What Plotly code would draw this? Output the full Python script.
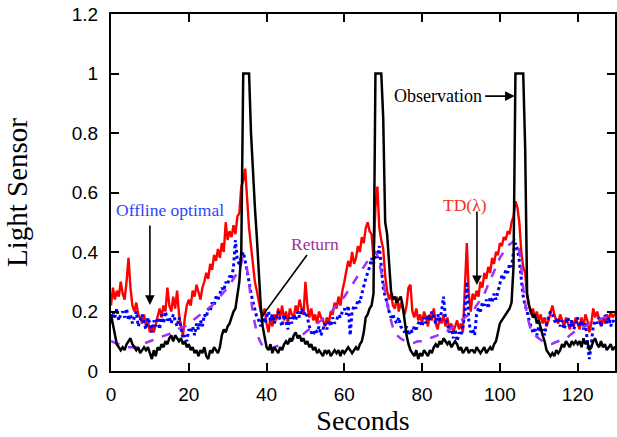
import plotly.graph_objects as go

# time axes (seconds)
t_fine = [i * 0.5 for i in range(261)]
t_coarse = list(range(131))

observation = [
    0.19,0.16,0.12,0.09,0.08,0.07,0.08,0.07,0.09,0.10, 0.11,0.09,0.08,0.07,0.08,0.06,0.07,0.08,0.07,0.08,
    0.06,0.04,0.07,0.05,0.08,0.07,0.09,0.08,0.10,0.09, 0.11,0.12,0.10,0.12,0.11,0.10,0.11,0.09,0.10,0.08,
    0.09,0.07,0.08,0.06,0.07,0.05,0.07,0.06,0.08,0.05, 0.04,0.07,0.06,0.08,0.07,0.06,0.08,0.12,0.14,0.13,
    0.15,0.16,0.18,0.20,0.21,0.25,0.30,0.40,1.0,1.0, 1.0,1.0,0.80,0.65,0.55,0.45,0.32,0.22,0.15,0.12,
    0.08,0.07,0.09,0.06,0.08,0.07,0.06,0.08,0.07,0.09, 0.10,0.09,0.11,0.10,0.12,0.13,0.11,0.12,0.10,0.11,
    0.09,0.10,0.08,0.09,0.07,0.08,0.06,0.07,0.06,0.05, 0.07,0.06,0.07,0.05,0.06,0.07,0.06,0.07,0.05,0.07,
    0.06,0.07,0.08,0.07,0.06,0.07,0.08,0.07,0.09,0.10, 0.13,0.18,0.19,0.21,0.22,0.26,1.0,1.0,1.0,1.0,
    0.85,0.50,0.46,0.38,0.27,0.24,0.25,0.23,0.24,0.25, 0.22,0.17,0.12,0.09,0.07,0.06,0.05,0.07,0.04,0.06,
    0.05,0.07,0.06,0.05,0.07,0.06,0.08,0.09,0.08,0.10, 0.09,0.11,0.10,0.09,0.10,0.08,0.09,0.10,0.09,0.07,
    0.08,0.06,0.07,0.08,0.06,0.07,0.07,0.06,0.08,0.07, 0.06,0.07,0.08,0.06,0.07,0.08,0.07,0.09,0.10,0.13,
    0.16,0.17,0.18,0.19,0.20,0.21,0.23,0.35,1.0,1.0, 1.0,1.0,1.0,0.75,0.26,0.22,0.20,0.18,0.19,0.16,
    0.17,0.14,0.12,0.10,0.07,0.06,0.05,0.06,0.05,0.07, 0.06,0.07,0.09,0.08,0.10,0.09,0.08,0.10,0.09,0.10,
    0.09,0.10,0.08,0.11,0.09,0.10,0.07,0.08,0.10,0.11, 0.09,0.08,0.10,0.08,0.09,0.07,0.08,0.09,0.07,0.08,
    0.08,
]

td_lambda = [
    0.22,0.28,0.24,0.27,0.25,0.30,0.26,0.24,0.30,0.38, 0.28,0.22,0.20,0.23,0.19,0.18,0.16,0.19,0.15,0.17,
    0.13,0.15,0.13,0.16,0.19,0.21,0.18,0.22,0.20,0.28, 0.22,0.20,0.25,0.21,0.27,0.19,0.15,0.12,0.18,0.22,
    0.24,0.22,0.27,0.25,0.29,0.26,0.24,0.28,0.30,0.33, 0.31,0.36,0.34,0.39,0.37,0.41,0.38,0.43,0.40,0.50,
    0.44,0.47,0.45,0.49,0.46,0.52,0.53,0.62,0.64,0.68, 0.58,0.48,0.42,0.36,0.30,0.27,0.23,0.20,0.19,0.21,
    0.16,0.13,0.18,0.15,0.19,0.17,0.21,0.18,0.22,0.17, 0.20,0.16,0.21,0.19,0.18,0.22,0.20,0.24,0.21,0.19,
    0.30,0.22,0.18,0.21,0.17,0.19,0.16,0.20,0.18,0.17, 0.15,0.18,0.16,0.20,0.19,0.23,0.21,0.25,0.22,0.27,
    0.30,0.34,0.37,0.35,0.40,0.36,0.38,0.42,0.40,0.45, 0.43,0.48,0.50,0.47,0.46,0.38,0.55,0.62,0.48,0.44,
    0.41,0.32,0.27,0.24,0.26,0.22,0.21,0.25,0.20,0.23, 0.21,0.19,0.22,0.28,0.29,0.20,0.18,0.21,0.17,0.19,
    0.16,0.20,0.18,0.15,0.19,0.17,0.21,0.16,0.14,0.18, 0.16,0.19,0.15,0.18,0.14,0.16,0.13,0.15,0.17,0.14,
    0.16,0.13,0.28,0.43,0.26,0.20,0.26,0.24,0.27,0.25, 0.30,0.28,0.33,0.31,0.35,0.33,0.38,0.36,0.40,0.39,
    0.43,0.42,0.45,0.44,0.47,0.46,0.50,0.52,0.57,0.55, 0.50,0.40,0.35,0.33,0.25,0.22,0.19,0.21,0.18,0.20,
    0.17,0.19,0.16,0.18,0.15,0.17,0.20,0.22,0.19,0.17, 0.16,0.19,0.17,0.15,0.18,0.16,0.14,0.17,0.15,0.18,
    0.16,0.14,0.18,0.15,0.19,0.17,0.13,0.16,0.21,0.18, 0.20,0.17,0.15,0.18,0.16,0.19,0.17,0.20,0.18,0.19,
    0.19,
]

offline_optimal = [
    0.16,0.20,0.18,0.21,0.17,0.19,0.20,0.18,0.21,0.17, 0.19,0.16,0.18,0.20,0.15,0.17,0.19,0.16,0.14,0.18,
    0.16,0.13,0.17,0.15,0.18,0.14,0.19,0.16,0.20,0.17, 0.18,0.16,0.19,0.17,0.15,0.18,0.14,0.11,0.12,0.10,
    0.14,0.13,0.15,0.12,0.16,0.14,0.17,0.15,0.19,0.18, 0.21,0.20,0.23,0.22,0.25,0.24,0.26,0.28,0.27,0.30,
    0.29,0.32,0.31,0.35,0.44,0.37,0.36,0.38,0.40,0.37, 0.34,0.30,0.26,0.23,0.20,0.18,0.17,0.15,0.19,0.16,
    0.18,0.20,0.17,0.19,0.16,0.18,0.20,0.17,0.15,0.19, 0.16,0.14,0.18,0.16,0.19,0.17,0.20,0.18,0.21,0.19,
    0.20,0.18,0.15,0.13,0.12,0.14,0.13,0.15,0.12,0.14, 0.16,0.14,0.17,0.15,0.18,0.16,0.17,0.19,0.18,0.20,
    0.21,0.19,0.22,0.12,0.20,0.22,0.21,0.24,0.23,0.26, 0.29,0.31,0.33,0.35,0.38,0.36,0.40,0.38,0.42,0.36,
    0.28,0.25,0.23,0.20,0.18,0.19,0.17,0.16,0.18,0.15, 0.14,0.13,0.15,0.12,0.14,0.13,0.15,0.14,0.16,0.17,
    0.15,0.18,0.16,0.19,0.17,0.20,0.18,0.16,0.19,0.17, 0.20,0.25,0.18,0.16,0.13,0.15,0.11,0.14,0.10,0.13,
    0.12,0.15,0.20,0.30,0.17,0.13,0.14,0.12,0.19,0.21, 0.20,0.23,0.22,0.24,0.21,0.25,0.23,0.26,0.24,0.27,
    0.30,0.32,0.31,0.34,0.33,0.36,0.35,0.40,0.43,0.41, 0.37,0.30,0.25,0.22,0.20,0.17,0.15,0.13,0.14,0.12,
    0.15,0.13,0.14,0.12,0.16,0.18,0.20,0.19,0.17,0.16, 0.18,0.15,0.17,0.14,0.16,0.18,0.15,0.17,0.14,0.16,
    0.18,0.15,0.17,0.14,0.16,0.10,0.04,0.09,0.15,0.17, 0.16,0.18,0.15,0.17,0.19,0.16,0.18,0.15,0.17,0.16,
    0.17,
]

return_values = [
    0.10,0.095,0.09,0.085,0.08,0.08,0.08,0.085,0.09,0.095,
    0.10,0.105,0.11,0.115,0.12,0.125,0.13,0.14,0.145,0.15,
    0.16,0.17,0.18,0.19,0.20,0.21,0.22,0.235,0.25,0.265,
    0.28,0.30,0.32,0.34,0.38,0.34,0.24,0.16,0.11,0.085,
    0.075,0.075,0.08,0.085,0.09,0.095,0.10,0.11,0.115,0.12,
    0.13,0.14,0.15,0.16,0.17,0.18,0.19,0.205,0.22,0.235,
    0.25,0.27,0.29,0.31,0.33,0.35,0.37,0.39,0.40,0.36,
    0.30,0.23,0.17,0.13,0.115,0.105,0.10,0.095,0.095,0.10,
    0.10,0.105,0.11,0.115,0.12,0.125,0.13,0.14,0.15,0.16,
    0.17,0.18,0.19,0.20,0.22,0.24,0.26,0.29,0.32,0.35,
    0.38,0.40,0.42,0.43,0.44,0.40,0.28,0.19,0.14,0.12,
    0.11,0.10,0.095,0.09,0.095,0.10,0.105,0.11,0.12,0.13,
    0.14,0.145,0.15,0.16,0.165,0.17,0.175,0.18,0.185,0.19,0.195,
]

x_ticks = [0, 20, 40, 60, 80, 100, 120]
y_ticks = [0, 0.2, 0.4, 0.6, 0.8, 1, 1.2]
y_tick_text = ["0", "0.2", "0.4", "0.6", "0.8", "1", "1.2"]

fig = go.Figure()
fig.add_trace(go.Scatter(x=t_fine, y=td_lambda, mode="lines", name="TD(λ)",
                         line=dict(color="#ff0000", width=2.4)))
fig.add_trace(go.Scatter(x=t_fine, y=offline_optimal, mode="lines", name="Offline optimal",
                         line=dict(color="#0000ff", width=3, dash="dot")))
fig.add_trace(go.Scatter(x=t_coarse, y=return_values, mode="lines", name="Return",
                         line=dict(color="#9933ff", width=2.5, dash="dash", shape="spline")))
fig.add_trace(go.Scatter(x=t_fine, y=observation, mode="lines", name="Observation",
                         line=dict(color="#000000", width=2.5)))

serif = "Liberation Serif, Times New Roman, serif"
sans = "Liberation Sans, Arial, sans-serif"

ann = [
    dict(x=84.1, y=0.924, text="Observation", showarrow=False,
         font=dict(family=serif, size=18, color="black")),
    dict(x=103.8, y=0.924, ax=-31, ay=0, text="", showarrow=True, arrowhead=2,
         arrowsize=1.2, arrowwidth=1.6, arrowcolor="black"),
    dict(x=15.2, y=0.541, text="Offline optimal", showarrow=False,
         font=dict(family=serif, size=17.5, color="#3344ff")),
    dict(x=10.0, y=0.222, ax=0, ay=-81, text="", showarrow=True, arrowhead=2,
         arrowsize=1.2, arrowwidth=1.6, arrowcolor="black"),
    dict(x=52.4, y=0.427, text="Return", showarrow=False,
         font=dict(family=serif, size=17.5, color="#993399")),
    dict(x=38.6, y=0.18, ax=47, ay=-64, text="", showarrow=True, arrowhead=0,
         arrowwidth=1.6, arrowcolor="black"),
    dict(x=91.0, y=0.558, text="TD(λ)", showarrow=False,
         font=dict(family=serif, size=17.5, color="#ee3322")),
    dict(x=94.1, y=0.289, ax=0, ay=-75, text="", showarrow=True, arrowhead=2,
         arrowsize=1.2, arrowwidth=1.6, arrowcolor="black"),
]

fig.update_layout(
    width=617, height=437,
    margin=dict(l=111, r=0, t=14, b=66),
    paper_bgcolor="white", plot_bgcolor="white",
    showlegend=False,
    annotations=ann,
    xaxis=dict(range=[0, 129.6], tickvals=x_ticks, ticks="inside", ticklen=8,
               tickwidth=1.5, tickcolor="black", showline=True, linecolor="black",
               linewidth=2, mirror="ticks", showgrid=False, zeroline=False,
               ticklabelstandoff=5,
               tickfont=dict(family=sans, size=19, color="black"),
               title=dict(text="Seconds", font=dict(family=serif, size=28, color="black"),
                          standoff=6)),
    yaxis=dict(range=[0, 1.2], tickvals=y_ticks, ticktext=y_tick_text, ticks="inside",
               ticklen=8, tickwidth=1.5, tickcolor="black", showline=True,
               linecolor="black", linewidth=2, mirror="ticks", showgrid=False,
               zeroline=False, ticklabelstandoff=7,
               tickfont=dict(family=sans, size=19, color="black"),
               title=dict(text="Light Sensor", font=dict(family=serif, size=29, color="black"),
                          standoff=36)),
)

fig.write_html("out.html")
